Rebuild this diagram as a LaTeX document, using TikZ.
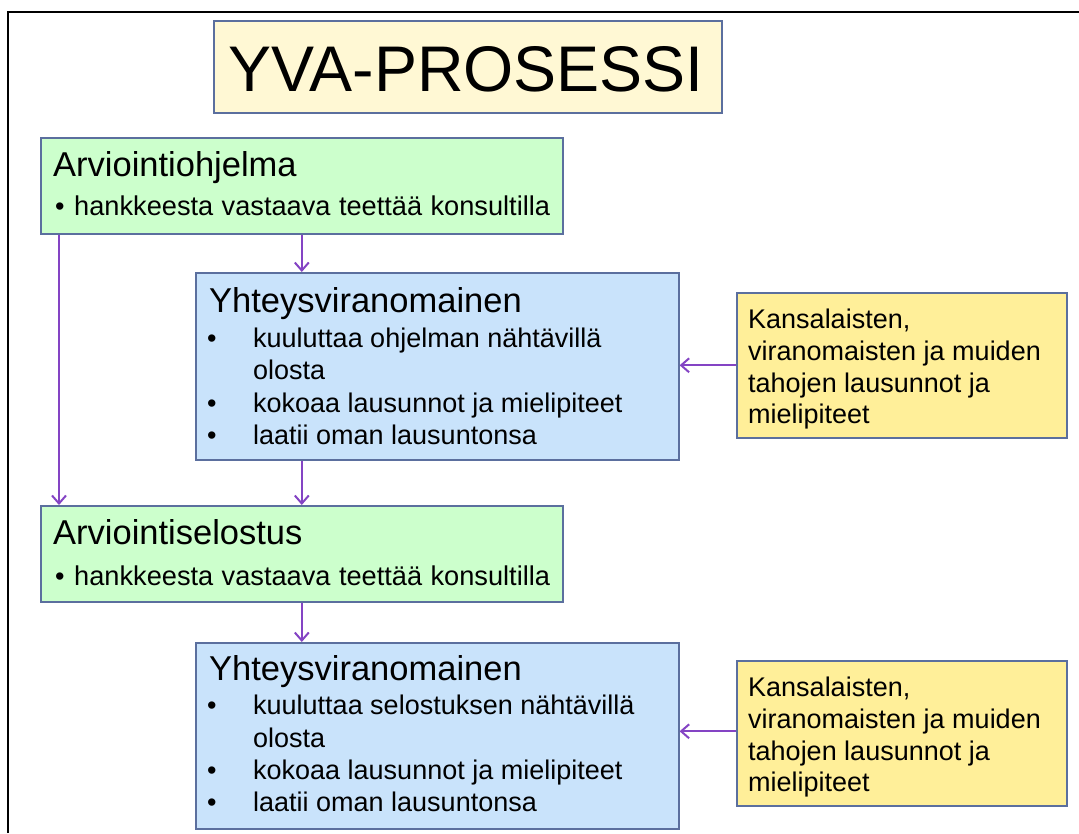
\documentclass[tikz,border=0pt]{standalone}
\usepackage{fontspec}
\setmainfont{Liberation Sans}
\usetikzlibrary{arrows.meta}
\definecolor{bordc}{HTML}{5B6F9E}
\definecolor{titlefill}{HTML}{FFF8D4}
\definecolor{greenfill}{HTML}{CCFFCC}
\definecolor{bluefill}{HTML}{C9E3FB}
\definecolor{yellowfill}{HTML}{FFEF99}
\definecolor{arrowc}{HTML}{8444C4}
\begin{document}
\begin{tikzpicture}[x=1pt,y=-1pt,
  box/.style={draw=bordc,line width=1.6pt,rectangle,inner sep=0pt,anchor=north west},
  txt/.style={anchor=base west,inner sep=0pt,font=\fontsize{27}{32}\selectfont},
  head/.style={anchor=base west,inner sep=0pt,font=\fontsize{34.5}{38}\selectfont},
  conn/.style={draw=arrowc,line width=2pt,-{Straight Barb[length=8pt,width=14pt,line width=2pt]}}]
\useasboundingbox (0,0) rectangle (1079,833);
% frame
\draw[line width=2pt] (8,833) -- (8,11.5) -- (1079,11.5);
% title
\node[box,fill=titlefill,minimum width=508pt,minimum height=92pt] (title) at (213,20) {};
\node[anchor=base,inner sep=0pt,font=\fontsize{64.5}{70}\selectfont] (titletext) at (466,91) {YVA-PROSESSI};
% green box 1
\node[box,fill=greenfill,minimum width=522pt,minimum height=96pt] (g1) at (40,137) {};
\node[head] (g1h) at (53,176) {Arviointiohjelma};
\node[txt] (g1d) at (55,215) {•};
\node[txt,font=\fontsize{27.2}{32}\selectfont] (g1a) at (74,215) {\spaceskip=0.31em\relax hankkeesta vastaava teettää konsultilla};
% blue box 1
\node[box,fill=bluefill,minimum width=483pt,minimum height=187pt] (b1) at (195,272) {};
\node[head] (b1h) at (209,312) {Yhteysviranomainen};
\node[txt] (b1d1) at (207,347) {•};
\node[txt] (b1a) at (253,347) {kuuluttaa ohjelman nähtävillä};
\node[txt] (b1b) at (253,379) {olosta};
\node[txt] (b1d2) at (207,412) {•};
\node[txt] (b1c) at (253,412) {kokoaa lausunnot ja mielipiteet};
\node[txt] (b1d3) at (207,444) {•};
\node[txt] (b1e) at (253,444) {laatii oman lausuntonsa};
% yellow box 1
\node[box,fill=yellowfill,minimum width=330pt,minimum height=145pt] (y1) at (736,292) {};
\node[txt] (y1a) at (748,328) {Kansalaisten,};
\node[txt] (y1b) at (748,360) {viranomaisten ja muiden};
\node[txt] (y1c) at (748,392) {tahojen lausunnot ja};
\node[txt] (y1d) at (748,423) {mielipiteet};
% green box 2
\node[box,fill=greenfill,minimum width=522pt,minimum height=96pt] (g2) at (40,505) {};
\node[head] (g2h) at (53,544) {Arviointiselostus};
\node[txt] (g2d) at (55,585) {•};
\node[txt,font=\fontsize{27.2}{32}\selectfont] (g2a) at (74,585) {\spaceskip=0.31em\relax hankkeesta vastaava teettää konsultilla};
% blue box 2
\node[box,fill=bluefill,minimum width=483pt,minimum height=186pt] (b2) at (195,642) {};
\node[head] (b2h) at (209,680) {Yhteysviranomainen};
\node[txt] (b2d1) at (207,714) {•};
\node[txt] (b2a) at (253,714) {kuuluttaa selostuksen nähtävillä};
\node[txt] (b2b) at (253,747) {olosta};
\node[txt] (b2d2) at (207,779) {•};
\node[txt] (b2c) at (253,779) {kokoaa lausunnot ja mielipiteet};
\node[txt] (b2d3) at (207,811) {•};
\node[txt] (b2e) at (253,811) {laatii oman lausuntonsa};
% yellow box 2
\node[box,fill=yellowfill,minimum width=330pt,minimum height=145pt] (y2) at (736,660) {};
\node[txt] (y2a) at (748,696) {Kansalaisten,};
\node[txt] (y2b) at (748,728) {viranomaisten ja muiden};
\node[txt] (y2c) at (748,760) {tahojen lausunnot ja};
\node[txt] (y2d) at (748,791) {mielipiteet};
% connectors
\draw[conn] (g1.south) -- (g1.south |- b1.north);
\draw[conn] ([xshift=19pt]g1.south west) -- ([xshift=19pt]g2.north west);
\draw[conn] (b1.south -| g2.north) -- (g2.north);
\draw[conn] (g2.south) -- (g2.south |- b2.north);
\draw[conn] (y1.west) -- (y1.west -| b1.east);
\draw[conn] ([yshift=2pt]y2.west) -- ([yshift=2pt]y2.west -| b2.east);
\end{tikzpicture}
\end{document}
